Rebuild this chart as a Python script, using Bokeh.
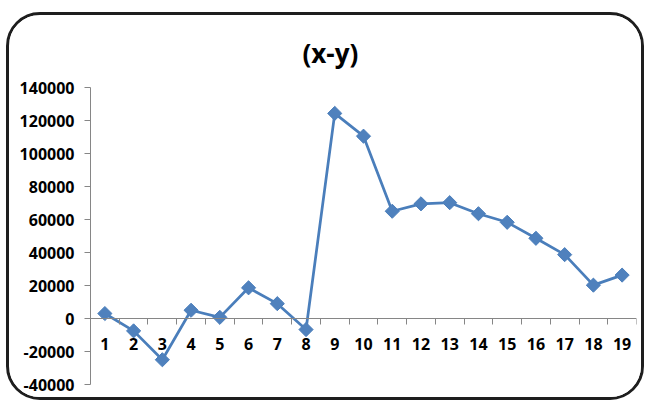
from bokeh.plotting import figure
from bokeh.models import LinearAxis, FixedTicker, ColumnDataSource, Title
from bokeh.embed import file_html
from bokeh.resources import INLINE
import math

# ---- data ----
categories = list(range(1, 20))
x_labels = [str(c) for c in categories]
diff_values = [3000, -7500, -25000, 5000, 700, 18600, 9000, -6700, 124300, 110500,
               65000, 69500, 70200, 63500, 58300, 48600, 38700, 20200, 26300]
y_ticks = [-40000, -20000, 0, 20000, 40000, 60000, 80000, 100000, 120000, 140000]
y_tick_labels = ["-40000", "-20000", "0", "20000", "40000", "60000", "80000",
                 "100000", "120000", "140000"]
title_text = "(x-y)"

FONT = "Open Sans"
AXIS_GRAY = "#868686"

src = ColumnDataSource(dict(x=categories, y=diff_values))

p = figure(width=632, height=382, output_backend="svg", toolbar_location=None,
           x_range=(0.5, 19.5), y_range=(-40000, 140000),
           x_axis_location=None, y_axis_location=None,
           min_border_left=81, min_border_right=11, min_border_top=72,
           min_border_bottom=19)
p.styles = {"border": "3px solid #1e1e1e", "border-radius": "34px",
            "overflow": "hidden", "box-sizing": "content-box",
            "margin-top": "12px", "margin-left": "6px"}
p.xgrid.visible = False
p.ygrid.visible = False
p.outline_line_color = None
p.background_fill_color = "white"
p.border_fill_color = "white"

t = Title(text=title_text, align="left", text_font=FONT, text_font_style="bold",
          text_font_size="26px", text_color="#000000", offset=212, standoff=33)
p.add_layout(t, "above")

# y axis
ya = LinearAxis(ticker=FixedTicker(ticks=y_ticks),
                major_label_overrides={v: s for v, s in zip(y_ticks, y_tick_labels)},
                axis_line_color=AXIS_GRAY, major_tick_line_color=AXIS_GRAY,
                major_tick_out=6, major_tick_in=0, minor_tick_line_color=None,
                major_label_text_font=FONT, major_label_text_font_style="bold",
                major_label_text_font_size="16px", major_label_text_color="#000000",
                major_label_standoff=10)
p.add_layout(ya, "left")

# x axis: tick marks at category boundaries
boundaries = [c - 0.5 for c in categories] + [categories[-1] + 0.5]
xa_ticks = LinearAxis(ticker=FixedTicker(ticks=boundaries), fixed_location=0,
                      axis_line_color=AXIS_GRAY, major_tick_line_color=AXIS_GRAY,
                      major_tick_out=6, major_tick_in=0, minor_tick_line_color=None,
                      major_label_text_color=None, major_label_text_font_size="1px")
p.add_layout(xa_ticks, "below")

# x axis: labels at category centres
xa_labels = LinearAxis(ticker=FixedTicker(ticks=categories), fixed_location=0,
                       major_label_overrides={c: s for c, s in zip(categories, x_labels)},
                       axis_line_color=None, major_tick_line_color=None,
                       minor_tick_line_color=None,
                       major_label_text_font=FONT, major_label_text_font_style="bold",
                       major_label_text_font_size="16px", major_label_text_color="#000000",
                       major_label_standoff=13)
p.add_layout(xa_labels, "below")

p.line("x", "y", source=src, line_color="#4A7EBB", line_width=2.75)
p.scatter("x", "y", source=src, marker="square", angle=math.pi / 4, size=10,
          fill_color="#4F81BD", line_color="#4A7EBB", line_width=1)

open("out.html", "w").write(file_html(p, INLINE))
